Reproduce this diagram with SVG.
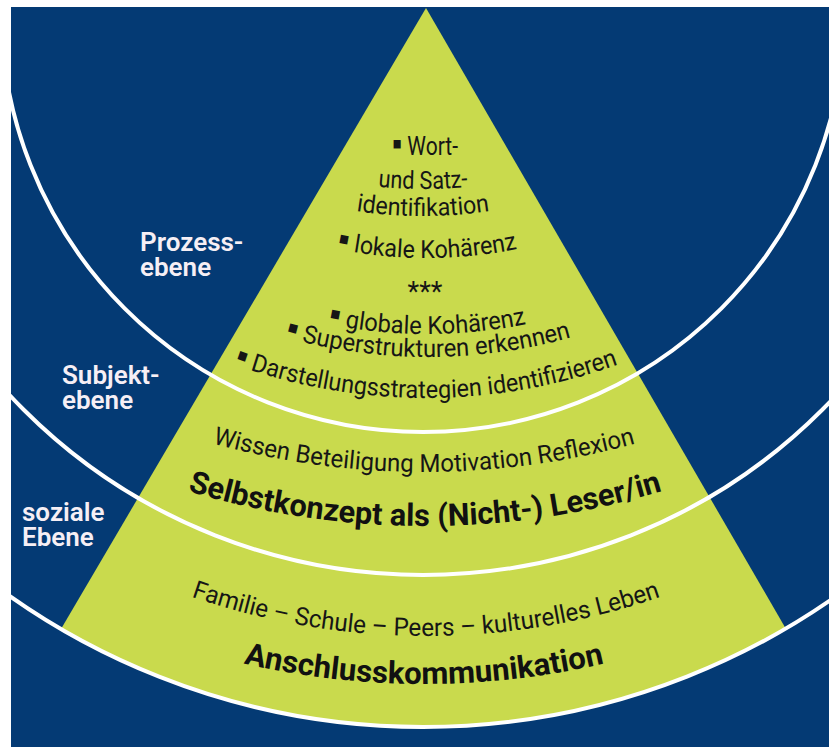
<svg xmlns="http://www.w3.org/2000/svg" width="829" height="747" viewBox="0 0 829 747">
  <style>
    .in { font-family: Roboto, "Liberation Sans", sans-serif; font-size: 25px; fill: #161616; }
    .bd { font-family: Roboto, "Liberation Sans", sans-serif; font-size: 31px; font-weight: bold; fill: #111111; }
    .lbl { font-family: Roboto, "Liberation Sans", sans-serif; font-size: 26px; font-weight: 600; fill: #f6eff5; }
    .bu { font-size: 34px; }
    .ring { fill: none; stroke: #ffffff; stroke-width: 4; }
  </style>
  <defs>
    <clipPath id="frame"><rect x="11" y="7" width="818" height="740"/></clipPath>
    <path id="pSatz" d="M173,113.2 A450,450 0 0 0 673,113.2"/>
    <path id="pIdent" d="M173,140.2 A450,450 0 0 0 673,140.2"/>
    <path id="pLokal" d="M177,182.2 A450,450 0 0 0 677,182.2"/>
    <path id="pGlobal" d="M177,267 A500,500 0 0 0 677,267"/>
    <path id="pSuper" d="M178,294.3 A530,530 0 0 0 678,294.3"/>
    <path id="pDarst" d="M176,339.9 A567,567 0 0 0 676,339.9"/>
    <path id="pWissen" d="M174,431.9 A800,800 0 0 0 674,431.9"/>
    <path id="pSelbst" d="M175,487 A820,820 0 0 0 675,487"/>
    <path id="pFamilie" d="M176,591.2 A720,720 0 0 0 676,591.2"/>
    <path id="pAnschluss" d="M174,643.9 A800,800 0 0 0 674,643.9"/>
  </defs>
  <rect x="0" y="0" width="829" height="747" fill="#ffffff"/>
  <g id="background">
    <rect x="11" y="7" width="818" height="740" fill="#043a74"/>
  </g>
  <g id="pyramid">
    <path d="M426,8 L61,629 A717,717 0 0 0 786,629 Z" fill="#c9da4d"/>
  </g>
  <g id="rings" clip-path="url(#frame)">
    <circle class="ring" cx="423" cy="10" r="422"/>
    <circle class="ring" cx="423" cy="10" r="565"/>
    <circle class="ring" cx="423" cy="10" r="717"/>
  </g>
  <g id="prozess-items">
    <text class="in" x="425" y="155" text-anchor="middle" textLength="66" lengthAdjust="spacingAndGlyphs"><tspan class="bu">▪</tspan> Wort-</text>
    <text class="in"><textPath href="#pSatz" startOffset="50%" text-anchor="middle" textLength="90" lengthAdjust="spacingAndGlyphs">und Satz-</textPath></text>
    <text class="in"><textPath href="#pIdent" startOffset="50%" text-anchor="middle" textLength="134" lengthAdjust="spacingAndGlyphs">identifikation</textPath></text>
    <text class="in"><textPath href="#pLokal" startOffset="50%" text-anchor="middle" textLength="182" lengthAdjust="spacingAndGlyphs"><tspan class="bu">▪</tspan> lokale Kohärenz</textPath></text>
    <text class="in" x="425" y="301" text-anchor="middle" style="font-size:27px">***</text>
    <text class="in"><textPath href="#pGlobal" startOffset="50%" text-anchor="middle" textLength="200" lengthAdjust="spacingAndGlyphs"><tspan class="bu">▪</tspan> globale Kohärenz</textPath></text>
    <text class="in"><textPath href="#pSuper" startOffset="50%" text-anchor="middle" textLength="290" lengthAdjust="spacingAndGlyphs"><tspan class="bu">▪</tspan> Superstrukturen erkennen</textPath></text>
    <text class="in"><textPath href="#pDarst" startOffset="50%" text-anchor="middle" textLength="392" lengthAdjust="spacingAndGlyphs"><tspan class="bu">▪</tspan> Darstellungsstrategien identifizieren</textPath></text>
  </g>
  <g id="subjekt-items">
    <text class="in"><textPath href="#pWissen" startOffset="50%" text-anchor="middle" textLength="428" lengthAdjust="spacingAndGlyphs">Wissen Beteiligung Motivation Reflexion</textPath></text>
    <text class="bd"><textPath href="#pSelbst" startOffset="50%" text-anchor="middle" textLength="482" lengthAdjust="spacingAndGlyphs">Selbstkonzept als (Nicht-) Leser/in</textPath></text>
  </g>
  <g id="sozial-items">
    <text class="in"><textPath href="#pFamilie" startOffset="50%" text-anchor="middle" textLength="478" lengthAdjust="spacingAndGlyphs">Familie – Schule – Peers – kulturelles Leben</textPath></text>
    <text class="bd"><textPath href="#pAnschluss" startOffset="50%" text-anchor="middle" textLength="364" lengthAdjust="spacingAndGlyphs">Anschlusskommunikation</textPath></text>
  </g>
  <g id="labels">
    <text class="lbl" x="140" y="251">Prozess-</text>
    <text class="lbl" x="140" y="276">ebene</text>
    <text class="lbl" x="62" y="384">Subjekt-</text>
    <text class="lbl" x="62" y="409">ebene</text>
    <text class="lbl" x="22" y="521">soziale</text>
    <text class="lbl" x="22" y="546">Ebene</text>
  </g>
</svg>
